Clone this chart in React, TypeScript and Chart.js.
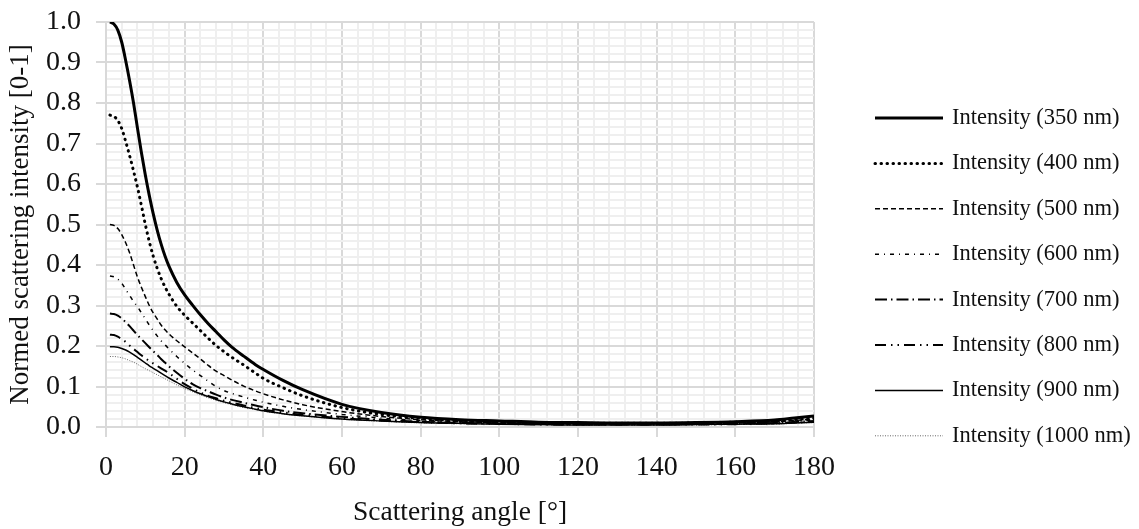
import React, { useEffect, useRef } from 'react';
import { Chart, registerables } from 'chart.js';

Chart.register(...registerables);

// ---- Data ----
const angles = [1, 2, 3, 4, 5, 6, 7, 8, 9, 10, 11, 12, 13, 14, 15, 16, 18, 20, 22, 24, 26, 28, 30, 32, 35, 38, 40, 45, 50, 60, 70, 80, 90, 100, 110, 120, 130, 140, 150, 160, 170, 175, 180];

const i350 = [1.0, 0.995, 0.98, 0.95, 0.905, 0.855, 0.8, 0.738, 0.678, 0.622, 0.572, 0.527, 0.487, 0.452, 0.422, 0.397, 0.357, 0.326, 0.301, 0.277, 0.255, 0.235, 0.215, 0.197, 0.175, 0.154, 0.142, 0.115, 0.092, 0.056, 0.036, 0.024, 0.018, 0.015, 0.012, 0.011, 0.01, 0.01, 0.011, 0.013, 0.017, 0.022, 0.027];
const i400 = [0.77, 0.767, 0.757, 0.737, 0.705, 0.67, 0.632, 0.592, 0.547, 0.5, 0.458, 0.422, 0.392, 0.367, 0.346, 0.328, 0.298, 0.276, 0.257, 0.238, 0.219, 0.201, 0.186, 0.172, 0.153, 0.133, 0.12, 0.097, 0.077, 0.048, 0.031, 0.021, 0.015, 0.012, 0.01, 0.009, 0.009, 0.009, 0.01, 0.012, 0.015, 0.018, 0.022];
const i500 = [0.5, 0.498, 0.49, 0.475, 0.455, 0.43, 0.4, 0.37, 0.345, 0.322, 0.3, 0.282, 0.267, 0.252, 0.24, 0.23, 0.213, 0.198, 0.183, 0.168, 0.152, 0.138, 0.127, 0.116, 0.101, 0.089, 0.082, 0.067, 0.055, 0.038, 0.026, 0.018, 0.013, 0.011, 0.009, 0.008, 0.008, 0.008, 0.009, 0.01, 0.013, 0.016, 0.019];
const i600 = [0.373, 0.371, 0.365, 0.355, 0.34, 0.325, 0.31, 0.297, 0.282, 0.267, 0.252, 0.238, 0.225, 0.213, 0.203, 0.193, 0.174, 0.157, 0.141, 0.127, 0.113, 0.1, 0.09, 0.083, 0.074, 0.066, 0.061, 0.051, 0.043, 0.031, 0.022, 0.016, 0.012, 0.01, 0.008, 0.007, 0.007, 0.007, 0.008, 0.009, 0.012, 0.014, 0.017];
const i700 = [0.28, 0.279, 0.275, 0.268, 0.259, 0.249, 0.238, 0.227, 0.217, 0.207, 0.197, 0.187, 0.178, 0.168, 0.159, 0.15, 0.134, 0.119, 0.106, 0.096, 0.088, 0.08, 0.073, 0.067, 0.06, 0.053, 0.049, 0.04, 0.034, 0.025, 0.018, 0.013, 0.01, 0.009, 0.007, 0.006, 0.006, 0.006, 0.007, 0.008, 0.01, 0.012, 0.015];
const i800 = [0.228, 0.227, 0.223, 0.217, 0.21, 0.201, 0.193, 0.185, 0.177, 0.17, 0.163, 0.157, 0.151, 0.145, 0.139, 0.133, 0.119, 0.106, 0.095, 0.085, 0.077, 0.071, 0.065, 0.06, 0.053, 0.047, 0.043, 0.036, 0.03, 0.022, 0.016, 0.012, 0.009, 0.008, 0.006, 0.006, 0.006, 0.006, 0.006, 0.007, 0.009, 0.011, 0.013];
const i900 = [0.198, 0.198, 0.197, 0.194, 0.19, 0.185, 0.179, 0.172, 0.165, 0.158, 0.151, 0.145, 0.139, 0.133, 0.127, 0.121, 0.11, 0.099, 0.09, 0.082, 0.075, 0.068, 0.062, 0.057, 0.05, 0.044, 0.04, 0.033, 0.028, 0.02, 0.015, 0.011, 0.009, 0.007, 0.006, 0.005, 0.005, 0.005, 0.006, 0.007, 0.008, 0.01, 0.012];
const i1000 = [0.174, 0.174, 0.173, 0.171, 0.168, 0.164, 0.16, 0.155, 0.149, 0.144, 0.139, 0.134, 0.129, 0.124, 0.119, 0.114, 0.104, 0.095, 0.087, 0.079, 0.072, 0.066, 0.06, 0.055, 0.048, 0.043, 0.039, 0.032, 0.027, 0.019, 0.014, 0.01, 0.008, 0.007, 0.006, 0.005, 0.005, 0.005, 0.005, 0.006, 0.007, 0.009, 0.011];

const seriesLabels = [
  'Intensity (350 nm)',
  'Intensity (400 nm)',
  'Intensity (500 nm)',
  'Intensity (600 nm)',
  'Intensity (700 nm)',
  'Intensity (800 nm)',
  'Intensity (900 nm)',
  'Intensity (1000 nm)',
];
const seriesValues = [i350, i400, i500, i600, i700, i800, i900, i1000];

const xTickLabels = ['0', '20', '40', '60', '80', '100', '120', '140', '160', '180'];
const yTickLabels = ['0.0', '0.1', '0.2', '0.3', '0.4', '0.5', '0.6', '0.7', '0.8', '0.9', '1.0'];

const xTitle = 'Scattering angle [°]';
const yTitle = 'Normed scattering intensity [0-1]';

// ---- Styles ----
const FONT = '"Liberation Serif", "Times New Roman", serif';
const TEXT = '#111111';
const MAJOR = '#d9d9d9';
const MINOR = '#efefef';

const seriesStyles = [
  { color: '#000000', width: 3, dash: [], cap: 'butt' },
  { color: '#000000', width: 3, dash: [0.5, 5.5], cap: 'round' },
  { color: '#000000', width: 1.5, dash: [5, 3], cap: 'butt' },
  { color: '#000000', width: 1.5, dash: [4, 5, 1, 5], cap: 'butt' },
  { color: '#000000', width: 2, dash: [12, 4, 1.5, 4], cap: 'butt' },
  { color: '#000000', width: 2, dash: [11, 5, 1.5, 5, 1.5, 5], cap: 'butt' },
  { color: '#000000', width: 1.5, dash: [], cap: 'butt' },
  { color: '#666666', width: 1, dash: [1, 1.5], cap: 'butt' },
];

const legendPlugin = {
  id: 'sideLegend',
  afterDraw(chart: any) {
    const ctx = chart.ctx;
    const area = chart.chartArea;
    const x0 = area.right + 61;
    const x1 = x0 + 68;
    const tx = x1 + 9;
    const top = 118;
    const step = 45.4;
    ctx.save();
    chart.data.datasets.forEach((ds: any, i: number) => {
      const y = top + i * step;
      ctx.beginPath();
      ctx.setLineDash(ds.borderDash || []);
      ctx.lineWidth = ds.borderWidth;
      ctx.strokeStyle = ds.borderColor;
      ctx.lineCap = ds.borderCapStyle || 'butt';
      ctx.moveTo(x0, y);
      ctx.lineTo(x1, y);
      ctx.stroke();
      ctx.setLineDash([]);
      ctx.fillStyle = TEXT;
      ctx.font = '22.5px ' + FONT;
      ctx.textBaseline = 'middle';
      ctx.textAlign = 'left';
      ctx.fillText(ds.label, tx, y);
    });
    ctx.restore();
  },
};

export default function App() {
  const canvasRef = useRef<HTMLCanvasElement | null>(null);

  useEffect(() => {
    document.body.style.margin = '0';
    const canvas = canvasRef.current;
    if (!canvas) return;

    const datasets = seriesValues.map((vals, i) => ({
      label: seriesLabels[i],
      data: angles.map((a, j) => ({ x: a, y: vals[j] })),
      borderColor: seriesStyles[i].color,
      borderWidth: seriesStyles[i].width,
      borderDash: seriesStyles[i].dash,
      borderCapStyle: seriesStyles[i].cap,
      borderJoinStyle: 'round',
      pointRadius: 0,
      fill: false,
      cubicInterpolationMode: 'monotone',
    }));

    const isMajorX = (v: number) => Math.round(v / 4) % 5 === 0;
    const isMajorY = (v: number) => Math.round(v * 50) % 5 === 0;

    const chart = new Chart(canvas, {
      type: 'line',
      data: { datasets } as any,
      plugins: [legendPlugin],
      options: {
        animation: false,
        responsive: false,
        devicePixelRatio: 1,
        layout: { padding: { top: 22, right: 325, left: 0, bottom: 0 } },
        plugins: {
          legend: { display: false },
          tooltip: { enabled: false },
        },
        scales: {
          x: {
            type: 'linear',
            min: 0,
            max: 180,
            afterFit: (s: any) => {
              s.height = 102;
            },
            border: { display: true, color: MAJOR, width: 2 },
            grid: {
              color: (c: any) => (isMajorX(c.tick.value) ? MAJOR : MINOR),
              tickColor: (c: any) => (isMajorX(c.tick.value) ? MAJOR : 'rgba(0,0,0,0)'),
              lineWidth: 2,
              tickLength: 10,
              drawTicks: true,
            },
            ticks: {
              stepSize: 4,
              autoSkip: false,
              maxRotation: 0,
              minRotation: 0,
              padding: 14,
              color: TEXT,
              font: { family: FONT, size: 28 },
              callback: (v: any) => {
                const k = Math.round(Number(v) / 4);
                return k % 5 === 0 ? xTickLabels[k / 5] : '';
              },
            },
            title: {
              display: true,
              text: xTitle,
              color: TEXT,
              font: { family: FONT, size: 27.5 },
              padding: { top: 0, bottom: 0 },
            },
          },
          y: {
            type: 'linear',
            min: 0,
            max: 1,
            afterFit: (s: any) => {
              s.width = 106;
              s.paddingTop = 0;
              s.paddingBottom = 0;
            },
            border: { display: true, color: MAJOR, width: 2 },
            grid: {
              color: (c: any) => (isMajorY(c.tick.value) ? MAJOR : MINOR),
              tickColor: (c: any) => (isMajorY(c.tick.value) ? MAJOR : 'rgba(0,0,0,0)'),
              lineWidth: 2,
              tickLength: 10,
              drawTicks: true,
            },
            ticks: {
              stepSize: 0.02,
              autoSkip: false,
              padding: 15,
              color: TEXT,
              font: { family: FONT, size: 28 },
              callback: (v: any) => {
                const k = Math.round(Number(v) * 50);
                return k % 5 === 0 ? yTickLabels[k / 5] : '';
              },
            },
            title: {
              display: true,
              text: yTitle,
              color: TEXT,
              font: { family: FONT, size: 27 },
              padding: { top: 5, bottom: 0 },
            },
          },
        },
      } as any,
    });

    return () => {
      chart.destroy();
    };
  }, []);

  return (
    <div style={{ width: 1139, height: 529, overflow: 'hidden' }}>
      <canvas ref={canvasRef} width={1139} height={529} style={{ display: 'block' }} />
    </div>
  );
}
